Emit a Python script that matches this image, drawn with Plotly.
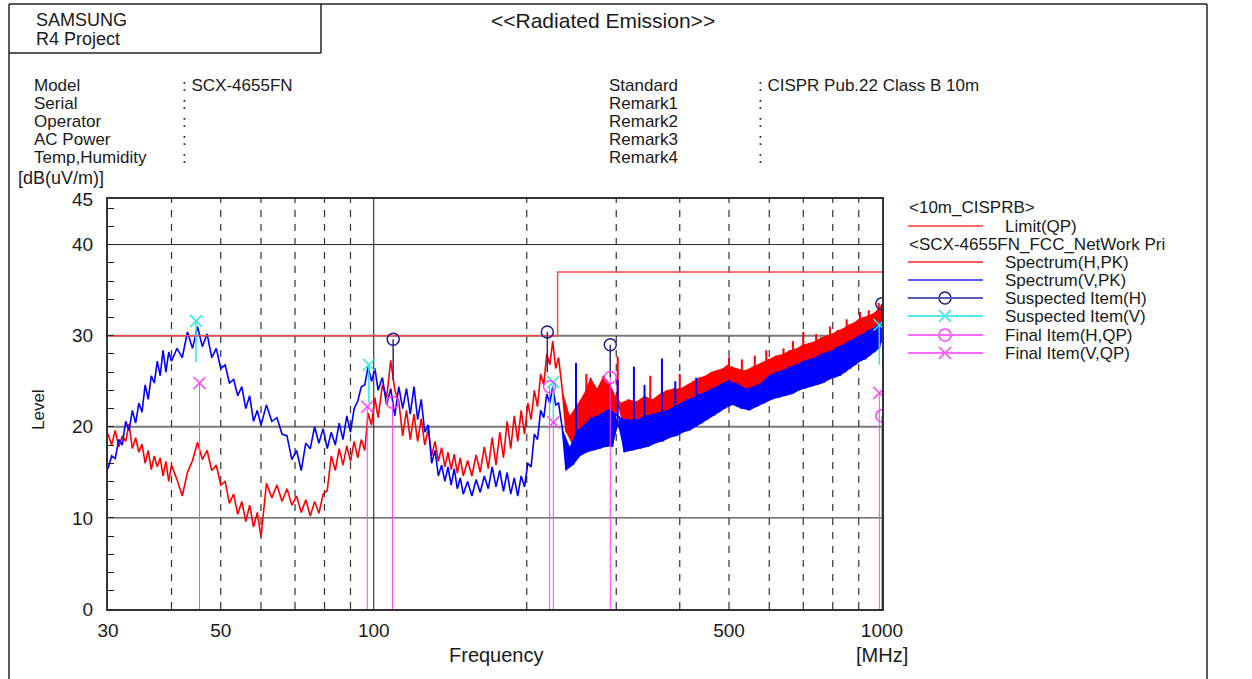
import math
import plotly.graph_objects as go

# ---------------- data ----------------
FREQ_MHZ = [
    30.0, 30.5, 31.0, 31.5, 32.0, 32.5, 33.0, 33.5, 34.0, 34.5, 35.0, 35.5, 36.0, 36.5, 37.0, 37.5, 38.0, 38.5, 39.0, 39.5, 40.0,
    41, 42, 43, 44, 45, 46, 47, 48, 49, 50, 51, 52, 53, 54, 55, 56, 57, 58, 59, 60,
    61.5, 63, 64.5, 66, 67.5, 69, 70.5, 72, 73.5, 75, 76.5, 78, 79.5, 81, 82.5, 84, 85.5, 87, 88.5, 90, 91.5, 93, 94.5, 96, 97.5, 99, 100.5,
    102, 104, 106, 108, 110, 112, 114, 116, 118, 120, 122, 124, 126, 128, 130, 132, 134, 136, 138, 140, 142, 144, 146, 148, 150,
    153, 156, 159, 162, 165, 168, 171, 174, 177, 180, 183, 186, 189, 192, 195, 198, 201, 204, 207, 210, 213, 216, 219, 222, 225, 228, 231,
    235, 239, 243, 247, 251, 255, 259, 263, 267, 271, 275, 279, 283, 287, 291, 295, 299,
    305, 311, 317, 323, 329, 335, 341, 347, 353, 359, 365, 371, 377, 383, 389, 395, 401, 407, 413, 419, 425, 431, 437, 443, 449, 455, 461, 467, 473, 479, 485, 491, 497,
    508, 518, 528, 538, 548, 558, 568, 578, 588, 598, 608, 618, 628, 638, 648, 658, 668, 678, 688, 698, 708, 718, 728, 738, 748, 758, 768, 778, 788, 798,
    808, 818, 828, 838, 848, 858, 868, 878, 888, 898, 908, 918, 928, 938, 948, 958, 968, 978, 988, 998, 1000,
]

SPECTRUM_H_PK = [
    19.2, 18.0, 19.6, 17.8, 19.0, 18.4, 20.3, 17.6, 18.8, 17.2, 18.1, 16.0, 17.4, 15.3, 16.8, 15.6, 16.6, 14.6, 16.2, 14.0, 15.8,
    14.2, 12.4, 15.0, 16.3, 18.3, 16.4, 17.4, 15.2, 15.8, 13.6, 14.0, 11.6, 12.6, 10.4, 11.8, 9.6, 11.4, 9.0, 10.6, 7.9,
    13.8, 12.2, 13.6, 11.8, 13.2, 11.4, 12.4, 10.6, 12.0, 10.2, 11.8, 10.5, 12.6, 13.0, 16.8, 15.2, 17.6, 15.8, 17.9, 16.2, 18.4, 16.6, 18.6, 17.4, 21.5, 20.2, 23.2,
    21.0, 24.6, 23.2, 27.3, 24.0, 22.8, 19.0, 21.8, 18.6, 21.4, 18.4, 20.9, 18.0, 19.8, 16.8, 18.4, 16.2, 17.7, 15.6, 17.2, 15.3, 17.0, 14.9, 16.6, 14.6,
    16.3, 14.6, 16.9, 15.0, 17.8, 15.4, 18.8, 15.8, 19.4, 16.6, 20.6, 17.6, 21.2, 18.4, 21.8, 19.2, 22.6, 20.8, 24.0, 22.2, 25.8, 24.6, 28.0, 26.8, 29.4, 26.4, 27.6,
    24.0, 19.4, 21.2, 17.8, 22.4, 19.0, 23.6, 19.6, 25.4, 20.2, 24.2, 20.0, 25.6, 20.4, 24.8, 20.2, 23.4,
    22.6, 19.6, 23.0, 19.8, 22.8, 20.0, 23.4, 20.2, 23.0, 20.4, 23.6, 20.6, 24.0, 20.8, 24.2, 21.2, 24.2, 21.4, 24.6, 21.8, 25.0, 22.2, 25.4, 22.4, 25.6, 22.8, 26.0, 23.0, 26.2, 23.2, 26.4, 23.4, 26.8,
    24.0, 26.4, 23.8, 26.2, 23.8, 26.6, 24.2, 27.0, 24.6, 27.4, 25.0, 27.8, 25.0, 28.0, 25.2, 28.4, 25.6, 28.6, 25.8, 29.0, 26.0, 29.2, 26.4, 29.4, 26.6, 29.8, 26.8, 30.0, 27.2, 30.2,
    27.4, 30.6, 27.6, 30.8, 28.0, 31.2, 28.4, 31.4, 28.6, 31.8, 29.0, 32.0, 29.2, 32.2, 29.6, 32.4, 29.8, 32.8, 30.2, 33.4, 31.0,
]

SPECTRUM_V_PK = [
    15.4, 16.8, 16.5, 18.6, 18.0, 20.6, 19.6, 21.8, 20.4, 22.6, 21.6, 24.6, 23.0, 25.6, 24.8, 27.2, 25.6, 28.4, 26.0, 28.2, 27.2,
    28.6, 27.6, 30.4, 28.6, 31.0, 28.8, 30.2, 27.6, 28.6, 26.4, 26.8, 24.8, 25.2, 23.4, 24.4, 22.0, 23.4, 20.6, 21.8, 20.2,
    22.4, 20.6, 21.0, 19.2, 19.0, 16.4, 17.4, 15.2, 18.2, 17.6, 20.0, 18.2, 19.8, 17.6, 19.4, 18.0, 20.4, 18.6, 21.2, 19.4, 22.0, 22.8, 24.4, 24.6, 26.6, 25.0, 26.4,
    24.0, 25.4, 22.4, 24.2, 21.2, 24.4, 22.0, 24.2, 21.4, 24.4, 20.8, 23.0, 19.4, 20.2, 16.0, 17.4, 14.6, 15.8, 14.0, 15.6, 13.6, 15.4, 13.2, 14.4, 12.6,
    14.0, 12.4, 14.2, 12.8, 14.6, 13.2, 15.6, 13.4, 15.2, 12.9, 15.0, 12.6, 14.4, 12.4, 14.6, 13.4, 16.0, 15.6, 19.2, 18.6, 21.8, 21.0, 23.6, 22.6, 24.4, 22.4, 22.6,
    19.8, 15.2, 17.8, 15.8, 19.6, 16.8, 20.2, 17.2, 21.0, 17.4, 21.2, 17.6, 21.6, 17.8, 22.0, 17.8, 21.4,
    21.0, 17.2, 20.8, 17.4, 20.8, 17.6, 21.2, 17.8, 21.4, 18.2, 21.6, 18.4, 21.8, 18.8, 22.2, 19.0, 22.6, 19.4, 23.0, 19.6, 23.2, 20.0, 23.6, 20.4, 23.8, 20.8, 24.2, 21.2, 24.4, 21.6, 24.8, 22.0, 25.0,
    22.4, 24.8, 22.0, 24.2, 21.8, 24.4, 22.2, 24.8, 22.6, 25.6, 23.0, 26.0, 23.2, 26.2, 23.4, 26.6, 23.6, 26.8, 24.0, 27.2, 24.2, 27.4, 24.4, 27.6, 24.6, 28.0, 24.8, 28.2, 25.2, 28.4,
    25.4, 28.8, 25.6, 29.0, 26.0, 29.4, 26.4, 29.6, 26.8, 30.0, 27.2, 30.2, 27.4, 30.6, 27.8, 30.8, 28.2, 31.2, 28.6, 31.6, 29.4,
]

# isolated narrow-band spikes above the dense part of the sweep
SPIKE_H_FREQ = [262, 302, 350, 400, 500, 530, 562, 592, 640, 668, 700, 742, 790, 852, 905, 942, 985]
SPIKE_H_BASE = [21.0, 22.0, 22.6, 23.5, 25.0, 25.4, 26.0, 26.4, 26.8, 27.2, 27.8, 28.2, 28.6, 29.4, 30.0, 30.6, 31.4]
SPIKE_H_TOP = [25.8, 27.7, 25.6, 25.8, 27.6, 27.4, 27.8, 28.4, 28.6, 29.4, 30.4, 30.2, 31.0, 31.8, 32.6, 32.8, 33.6]

SPIKE_V_FREQ = [250, 302, 325, 341, 369, 392, 431, 500]
SPIKE_V_BASE = [18.0, 20.0, 20.0, 20.5, 21.0, 21.5, 22.0, 23.0]
SPIKE_V_TOP = [27.0, 25.1, 26.6, 24.6, 27.5, 25.0, 25.4, 25.2]

LIMIT_FREQ = [30, 230, 230, 1000]
LIMIT_QP = [30, 30, 37, 37]

SUSP_H_FREQ = [109.2, 219.5, 292.0, 999.0]
SUSP_H_LEVEL = [29.6, 30.4, 29.0, 33.5]
SUSP_H_READ = [25.1, 26.0, 25.4, 29.5]

SUSP_V_FREQ = [44.7, 97.8, 225.6, 988.0]
SUSP_V_LEVEL = [31.6, 26.8, 24.9, 31.2]
SUSP_V_READ = [27.1, 22.6, 20.7, 26.8]

FINAL_H_FREQ = [108.9, 221.8, 292.0, 999.0]
FINAL_H_QP = [22.7, 24.4, 25.4, 21.2]

FINAL_V_FREQ = [45.4, 97.1, 225.6, 988.0]
FINAL_V_QP = [24.8, 22.2, 20.5, 23.7]

X_TICKS = [30, 50, 100, 500, 1000]
Y_TICKS = [0, 10, 20, 30, 40, 45]
GRID_DASHED_FREQ = [40, 50, 60, 70, 80, 90, 200, 300, 400, 500, 600, 700, 800, 900]
GRID_SOLID_FREQ = [100]
GRID_DARK_LEVEL = [10, 40]
GRID_GREY_LEVEL = [20, 30]

DENSE_FROM_MHZ = 235  # above this the sweep is drawn as a dense band

assert len(FREQ_MHZ) == len(SPECTRUM_H_PK) == len(SPECTRUM_V_PK)

# ---------------- style ----------------
W, H = 1252, 679
FONT = "Liberation Sans, Arial, sans-serif"
TXT = "#1a1a1a"
RED = "#ff0000"
BLUE = "#0000ff"
LIMIT_C = "#ff4848"
NAVY = "#1c1c8e"
CYAN = "#30e6e6"
MAG = "#ff40ff"
ROW_FONT = 17

PLOT_L, PLOT_R, PLOT_T, PLOT_B = 108, 882, 199, 609

fig = go.Figure()


def vlines(freqs, y0, y1):
    xs, ys = [], []
    for f in freqs:
        xs += [f, f, None]
        ys += [y0, y1, None]
    return xs, ys


def hlines(levels, x0, x1):
    xs, ys = [], []
    for l in levels:
        xs += [x0, x1, None]
        ys += [l, l, None]
    return xs, ys


def stems(freqs, lows, highs):
    xs, ys = [], []
    for f, lo, hi in zip(freqs, lows, highs):
        xs += [f, f, None]
        ys += [lo, hi, None]
    return xs, ys


def add_spectrum(freq, vals, color, name, spk_f, spk_lo, spk_hi):
    start = next(i for i, f in enumerate(freq) if f >= DENSE_FROM_MHZ)
    sf, sv = freq[start:], vals[start:]
    fig.add_trace(go.Scatter(x=sf[0::2], y=sv[0::2], mode="lines", line=dict(width=0, color=color),
                             hoverinfo="skip", showlegend=False))
    fig.add_trace(go.Scatter(x=sf[1::2], y=sv[1::2], mode="lines", line=dict(width=0, color=color),
                             fill="tonexty", fillcolor=color, hoverinfo="skip", showlegend=False))
    fig.add_trace(go.Scatter(x=freq, y=vals, mode="lines", line=dict(color=color, width=1.6), name=name))
    kx, ky = stems(spk_f, spk_lo, spk_hi)
    fig.add_trace(go.Scatter(x=kx, y=ky, mode="lines", line=dict(color=color, width=2), hoverinfo="skip"))


# grid
gx, gy = hlines(GRID_GREY_LEVEL, 30, 1000)
fig.add_trace(go.Scatter(x=gx, y=gy, mode="lines", line=dict(color="#7a7a7a", width=2), hoverinfo="skip"))
gx, gy = hlines(GRID_DARK_LEVEL, 30, 1000)
fig.add_trace(go.Scatter(x=gx, y=gy, mode="lines", line=dict(color="#222222", width=1), hoverinfo="skip"))
gx, gy = vlines(GRID_DASHED_FREQ, 0, 45)
fig.add_trace(go.Scatter(x=gx, y=gy, mode="lines", line=dict(color="#333333", width=1.2, dash="7px,7px"), hoverinfo="skip"))
gx, gy = vlines(GRID_SOLID_FREQ, 0, 45)
fig.add_trace(go.Scatter(x=gx, y=gy, mode="lines", line=dict(color="#111111", width=1), hoverinfo="skip"))

# spectra
add_spectrum(FREQ_MHZ, SPECTRUM_H_PK, RED, "Spectrum(H,PK)", SPIKE_H_FREQ, SPIKE_H_BASE, SPIKE_H_TOP)
add_spectrum(FREQ_MHZ, SPECTRUM_V_PK, BLUE, "Spectrum(V,PK)", SPIKE_V_FREQ, SPIKE_V_BASE, SPIKE_V_TOP)

# limit
fig.add_trace(go.Scatter(x=LIMIT_FREQ, y=LIMIT_QP, mode="lines", line=dict(color=LIMIT_C, width=1.5), name="Limit(QP)"))

# stems
sx, sy = stems(FINAL_H_FREQ, [0] * len(FINAL_H_FREQ), FINAL_H_QP)
fig.add_trace(go.Scatter(x=sx, y=sy, mode="lines", line=dict(color=MAG, width=1), hoverinfo="skip"))
sx, sy = stems(FINAL_V_FREQ, [0] * len(FINAL_V_FREQ), FINAL_V_QP)
fig.add_trace(go.Scatter(x=sx, y=sy, mode="lines", line=dict(color=MAG, width=1), hoverinfo="skip"))
sx, sy = stems(SUSP_V_FREQ, SUSP_V_READ, SUSP_V_LEVEL)
fig.add_trace(go.Scatter(x=sx, y=sy, mode="lines", line=dict(color=CYAN, width=1.5), hoverinfo="skip"))
sx, sy = stems(SUSP_H_FREQ, SUSP_H_READ, SUSP_H_LEVEL)
fig.add_trace(go.Scatter(x=sx, y=sy, mode="lines", line=dict(color="#3a2870", width=1.5), hoverinfo="skip"))

# markers
fig.add_trace(go.Scatter(x=SUSP_H_FREQ, y=SUSP_H_LEVEL, mode="markers", name="Suspected Item(H)",
                         marker=dict(symbol="circle-open", size=12, color=NAVY, line=dict(width=1.5, color=NAVY))))
fig.add_trace(go.Scatter(x=SUSP_V_FREQ, y=SUSP_V_LEVEL, mode="markers", name="Suspected Item(V)",
                         marker=dict(symbol="x-thin-open", size=12, color=CYAN, line=dict(width=1.5, color=CYAN))))
fig.add_trace(go.Scatter(x=FINAL_H_FREQ, y=FINAL_H_QP, mode="markers", name="Final Item(H,QP)",
                         marker=dict(symbol="circle-open", size=12, color=MAG, line=dict(width=1.5, color=MAG))))
fig.add_trace(go.Scatter(x=FINAL_V_FREQ, y=FINAL_V_QP, mode="markers", name="Final Item(V,QP)",
                         marker=dict(symbol="x-thin-open", size=12, color=MAG, line=dict(width=1.5, color=MAG))))

# ---------------- overlay (pixel coordinates) ----------------
annotations = []
shapes = []


def txt(x, y, s, size=ROW_FONT, anchor="left", angle=0):
    annotations.append(dict(xref="x2", yref="y2", x=x, y=y, text=s, showarrow=False,
                            xanchor=anchor, yanchor="middle", textangle=angle, borderpad=0,
                            font=dict(family=FONT, size=size, color=TXT)))


def seg(x0, y0, x1, y1, color="#222222", width=1.5):
    shapes.append(dict(type="line", xref="x2", yref="y2", x0=x0, y0=y0, x1=x1, y1=y1,
                       line=dict(color=color, width=width)))


# frames
seg(9, 4, 1207, 4)
seg(9, 4, 9, 679)
seg(1207, 4, 1207, 679)
seg(9, 53, 321, 53)
seg(321, 4, 321, 53)

txt(35, 20, "SAMSUNG", size=18)
txt(35, 39, "R4 Project", size=18)
txt(490, 20, "&lt;&lt;Radiated Emission&gt;&gt;", size=21)

left_labels = ["Model", "Serial", "Operator", "AC Power", "Temp,Humidity"]
left_values = [": SCX-4655FN", ":", ":", ":", ":"]
right_labels = ["Standard", "Remark1", "Remark2", "Remark3", "Remark4"]
right_values = [": CISPR Pub.22 Class B 10m", ":", ":", ":", ":"]
row_y = [85, 103, 121, 139, 157]
for lab, val, y in zip(left_labels, left_values, row_y):
    txt(33, y, lab)
    txt(181, y, val)
for lab, val, y in zip(right_labels, right_values, row_y):
    txt(608, y, lab)
    txt(757, y, val)

txt(17, 178, "[dB(uV/m)]", size=18)
txt(38, 410, "Level", size=17, anchor="center", angle=-90)
txt(496, 655, "Frequency", size=20, anchor="center")
txt(882, 655, "[MHz]", size=20, anchor="center")

# legend
LG_X0, LG_X1, LG_MX, LG_TX = 908, 983, 945, 1004
legend_rows = [
    ("&lt;10m_CISPRB&gt;", None, None, 207),
    ("Limit(QP)", "#ff6a6a", None, 226),
    ("&lt;SCX-4655FN_FCC_NetWork Pri", None, None, 244),
    ("Spectrum(H,PK)", "#ff5a5a", None, 262),
    ("Spectrum(V,PK)", "#5a5aff", None, 280),
    ("Suspected Item(H)", "#5a5ab4", ("circle-open", NAVY), 298),
    ("Suspected Item(V)", "#50eaea", ("x-thin-open", CYAN), 316),
    ("Final Item(H,QP)", "#ff6aff", ("circle-open", MAG), 335),
    ("Final Item(V,QP)", "#ff6aff", ("x-thin-open", MAG), 353),
]
for label, lc, mk, y in legend_rows:
    if lc is None:
        txt(LG_X0, y, label)
        continue
    seg(LG_X0, y, LG_X1, y, color=lc, width=2)
    txt(LG_TX, y, label)
    if mk is not None:
        fig.add_trace(go.Scatter(x=[LG_MX], y=[y], xaxis="x2", yaxis="y2", mode="markers", hoverinfo="skip",
                                 marker=dict(symbol=mk[0], size=12, color=mk[1], line=dict(width=1.5, color=mk[1]))))

tickfont = dict(family=FONT, size=19, color=TXT)
fig.update_layout(
    width=W, height=H,
    margin=dict(l=0, r=0, t=0, b=0),
    paper_bgcolor="white",
    plot_bgcolor="rgba(0,0,0,0)",
    showlegend=False,
    xaxis=dict(type="log", range=[math.log10(30), math.log10(1000)],
               domain=[PLOT_L / W, PLOT_R / W], anchor="y",
               tickmode="array", tickvals=X_TICKS, ticktext=[str(v) for v in X_TICKS],
               tickfont=tickfont, showgrid=False, zeroline=False, ticks="",
               showline=True, mirror=True, linecolor="#333333", linewidth=2,
               ticklabelstandoff=3, automargin=False),
    yaxis=dict(range=[0, 45], domain=[(H - PLOT_B) / H, (H - PLOT_T) / H], anchor="x",
               tickmode="array", tickvals=Y_TICKS, ticktext=[str(v) for v in Y_TICKS],
               tickfont=tickfont, showgrid=False, zeroline=False, ticks="",
               minor=dict(ticks="inside", ticklen=6, dtick=2, tick0=0, tickcolor="#222222", tickwidth=1, showgrid=False),
               showline=True, mirror=True, linecolor="#333333", linewidth=2,
               ticklabelstandoff=9, automargin=False),
    xaxis2=dict(domain=[0, 1], range=[0, W], visible=False, anchor="y2", fixedrange=True),
    yaxis2=dict(domain=[0, 1], range=[H, 0], visible=False, anchor="x2", fixedrange=True),
    annotations=annotations,
    shapes=shapes,
)

fig.write_html("out.html")
